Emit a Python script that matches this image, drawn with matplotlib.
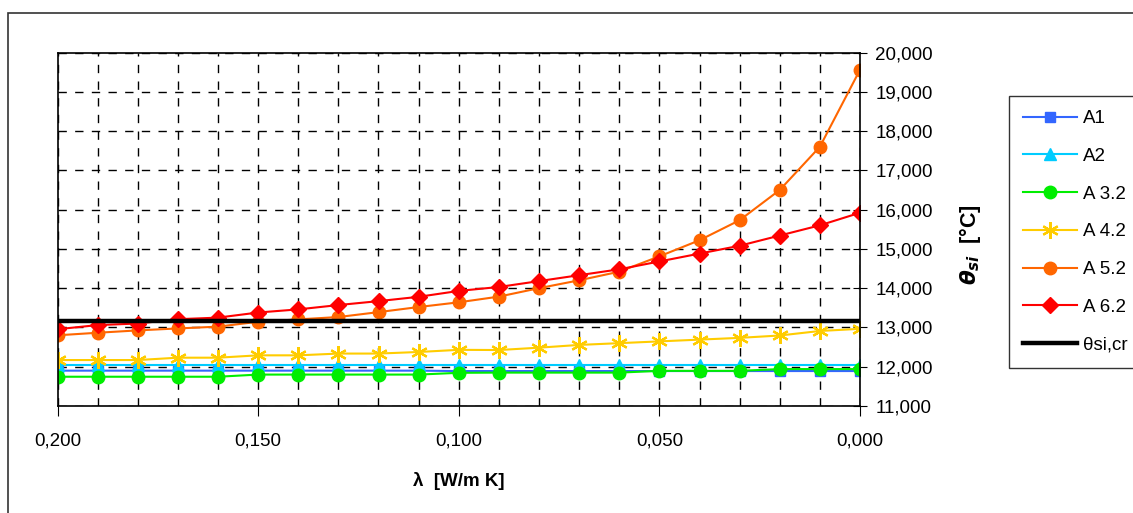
import numpy as np
import matplotlib
matplotlib.use("Agg")
import matplotlib.pyplot as plt
from matplotlib.ticker import MultipleLocator, FuncFormatter
from matplotlib.patches import Rectangle

plt.rcParams['font.family'] = ['Liberation Sans', 'DejaVu Sans']

# lambda values [W/mK], from 0.20 down to 0.00
lam = [0.20, 0.19, 0.18, 0.17, 0.16, 0.15, 0.14, 0.13, 0.12, 0.11, 0.10,
       0.09, 0.08, 0.07, 0.06, 0.05, 0.04, 0.03, 0.02, 0.01, 0.00]

a1 = [11900, 11900, 11900, 11900, 11900, 11900, 11900, 11900, 11900, 11900, 11890,
      11890, 11890, 11890, 11890, 11890, 11890, 11890, 11890, 11890, 11890]
a2 = [12040] * 21
a32 = [11745, 11745, 11745, 11745, 11745, 11800, 11800, 11800, 11800, 11800, 11845,
       11850, 11850, 11850, 11850, 11895, 11895, 11895, 11940, 11940, 11940]
a42 = [12170, 12170, 12170, 12230, 12230, 12290, 12290, 12335, 12335, 12375, 12430,
       12425, 12485, 12555, 12600, 12645, 12690, 12735, 12795, 12910, 12965]
a52 = [12800, 12865, 12925, 12975, 13020, 13145, 13205, 13265, 13390, 13520, 13640,
       13785, 14000, 14200, 14420, 14810, 15220, 15730, 16500, 17600, 19560]
a62 = [12955, 13060, 13100, 13210, 13250, 13380, 13460, 13570, 13670, 13780, 13930,
       14030, 14180, 14330, 14480, 14680, 14880, 15080, 15340, 15600, 15920]
theta_cr = 13160

fig = plt.figure(figsize=(11.33, 5.13), dpi=100)
W, H = 1133, 513
ax = fig.add_axes([57.5 / W, 1 - 406 / H, (860 - 57.5) / W, (406 - 52.5) / H])

# outer chart border (cut off at right and bottom)
fig.patches.append(Rectangle((7.5 / W, -0.05), 1.2, 1 - 13 / H + 0.05,
                             transform=fig.transFigure, fill=False,
                             edgecolor='#333333', lw=1.2))

ax.plot(lam, a1, color='#3366FF', marker='s', ms=7, lw=1.5, label='A1')
ax.plot(lam, a2, color='#00CCFF', marker='^', ms=9, lw=1.5, label='A2')
ax.plot(lam, a32, color='#00EE00', marker='o', ms=9, lw=1.5, label='A 3.2')
ax.plot(lam, a42, color='#FFCC00', marker=(6, 2, 0), ms=12, mew=1.6, lw=1.5, label='A 4.2')
ax.plot(lam, a52, color='#FF6600', marker='o', ms=9, lw=1.5, label='A 5.2')
ax.plot(lam, a62, color='#FF0000', marker='D', ms=8, lw=1.5, label='A 6.2')
ax.plot(lam, [theta_cr] * len(lam), color='black', lw=3.2, label='θsi,cr')

ax.set_xlim(0.2, 0.0)
ax.set_ylim(11000, 20000)
ax.xaxis.set_major_locator(MultipleLocator(0.05))
ax.xaxis.set_minor_locator(MultipleLocator(0.01))
ax.yaxis.set_major_locator(MultipleLocator(1000))
ax.xaxis.set_major_formatter(FuncFormatter(lambda v, p: f"{v:.3f}".replace('.', ',')))
ax.yaxis.set_major_formatter(FuncFormatter(lambda v, p: f"{int(round(v)) // 1000},000"))

ax.grid(True, which='both', axis='x', color='black', ls=(0, (6, 6)), lw=1.0)
ax.grid(True, which='major', axis='y', color='black', ls=(0, (6, 6)), lw=1.0)
ax.yaxis.tick_right()
ax.yaxis.set_label_position('right')
ax.tick_params(axis='y', direction='inout', length=10, labelsize=13.5, pad=6)
ax.tick_params(axis='x', which='major', direction='out', length=7, labelsize=13.5, pad=12)
ax.tick_params(axis='x', which='minor', length=0)
for s in ax.spines.values():
    s.set_linewidth(1.2)

ax.set_xlabel('λ  [W/m K]', fontsize=13.5, fontweight='bold', labelpad=16)
ax.set_ylabel(r'$\boldsymbol{\theta}_{\boldsymbol{si}}$  [°C]', fontsize=15.5,
              fontweight='bold')
ax.yaxis.set_label_coords((957 - 57.5) / (860 - 57.5), (406 - 245) / (406 - 52.5))

leg = fig.legend(loc='upper left', bbox_to_anchor=(1009 / W, 1 - 96 / H),
                 frameon=True, fancybox=False, edgecolor='black', fontsize=13.5,
                 handlelength=2.9, labelspacing=1.1, borderpad=0.75,
                 handletextpad=0.3, borderaxespad=0.0)
leg.get_frame().set_linewidth(1.0)

fig.savefig('out.png', dpi=100)
